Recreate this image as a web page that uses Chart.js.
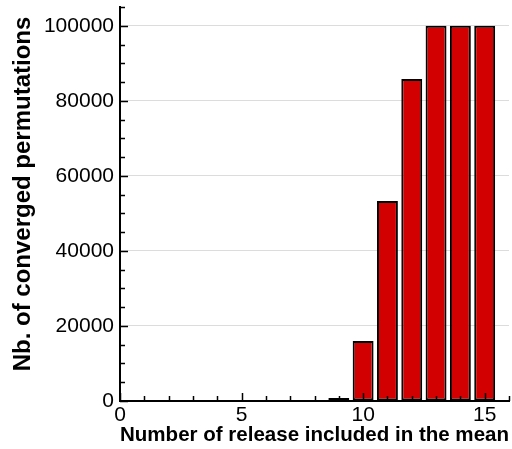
<!DOCTYPE html>
<html>
<head>
<meta charset="utf-8">
<script src="https://cdn.jsdelivr.net/npm/chart.js@4/dist/chart.umd.min.js"></script>
<style>
  html, body { margin: 0; padding: 0; background: #fff; }
  #wrap { width: 512px; height: 449px; }
</style>
</head>
<body>
<div id="wrap"><canvas id="convChart" width="512" height="449"></canvas></div>
<script>
// releases included in the mean, and how many permutations converged
const releases = [1, 2, 3, 4, 5, 6, 7, 8, 9, 10, 11, 12, 13, 14, 15];
const converged = [0, 0, 0, 0, 0, 0, 0, 0, 800, 16000, 53300, 85800, 100000, 100000, 100000];

const xTicks = [0, 5, 10, 15];
const xMinorStep = 1;
const yTicks = [0, 20000, 40000, 60000, 80000, 100000];
const yMinorStep = 5000;

const FONT = '"Liberation Sans", Arial, Helvetica, sans-serif';
const Y_TITLE = 'Nb. of converged permutations';

// inward major/minor tick marks over the bars, plus the rotated y title
const frameExtras = {
  id: 'frameExtras',
  afterDatasetsDraw(chart) {
    const { ctx, chartArea: a, scales: { x, y } } = chart;
    ctx.save();
    ctx.strokeStyle = '#000';
    ctx.lineWidth = 1.5;
    ctx.beginPath();
    for (let v = x.min; v <= x.max; v += xMinorStep) {
      const px = Math.round(x.getPixelForValue(v)) + 0.5;
      const len = xTicks.includes(v) ? 8 : 5;
      ctx.moveTo(px, a.bottom);
      ctx.lineTo(px, a.bottom - len);
    }
    for (let v = y.min; v <= y.max; v += yMinorStep) {
      const py = Math.round(y.getPixelForValue(v)) + 0.5;
      const len = yTicks.includes(v) ? 8 : 5;
      ctx.moveTo(a.left, py);
      ctx.lineTo(a.left + len, py);
    }
    ctx.stroke();

    ctx.translate(23, 194);
    ctx.rotate(-Math.PI / 2);
    ctx.fillStyle = '#000';
    ctx.font = 'bold 24px ' + FONT;
    ctx.textAlign = 'center';
    ctx.textBaseline = 'middle';
    ctx.fillText(Y_TITLE, 0, 0);
    ctx.restore();
  }
};

new Chart(document.getElementById('convChart'), {
  type: 'bar',
  data: {
    datasets: [{
      data: releases.map((r, i) => ({ x: r, y: converged[i] })),
      backgroundColor: '#d20000',
      borderColor: '#000',
      borderWidth: 2,
      borderSkipped: false,
      categoryPercentage: 1,
      barPercentage: 0.86
    }]
  },
  options: {
    responsive: false,
    animation: false,
    events: [],
    layout: { padding: { top: 7, right: 3, left: 0, bottom: 0 } },
    plugins: { legend: { display: false }, tooltip: { enabled: false } },
    scales: {
      x: {
        type: 'linear',
        min: 0,
        max: 16,
        offset: false,
        afterBuildTicks: s => { s.ticks = xTicks.map(v => ({ value: v })); },
        afterFit: s => { s.height = 48; s.paddingLeft = 0; s.paddingRight = 0; },
        grid: { display: false, drawTicks: false, offset: false },
        border: { display: true, color: '#000', width: 2 },
        ticks: { color: '#000', padding: 2, maxRotation: 0, font: { family: FONT, size: 21 } },
        title: {
          display: true,
          text: 'Number of release included in the mean',
          color: '#000',
          padding: { top: 0, bottom: 1 },
          font: { family: FONT, size: 21, weight: 'bold' }
        }
      },
      y: {
        min: 0,
        max: 105000,
        afterBuildTicks: s => { s.ticks = yTicks.map(v => ({ value: v })); },
        afterFit: s => { s.width = 120; s.paddingTop = 0; s.paddingBottom = 0; },
        grid: { color: '#dcdcdc', lineWidth: 1, drawTicks: false },
        border: { display: true, color: '#000', width: 2 },
        ticks: {
          color: '#000',
          padding: 6,
          font: { family: FONT, size: 21 },
          callback: v => String(v)
        }
      }
    }
  },
  plugins: [frameExtras]
});
</script>
</body>
</html>
